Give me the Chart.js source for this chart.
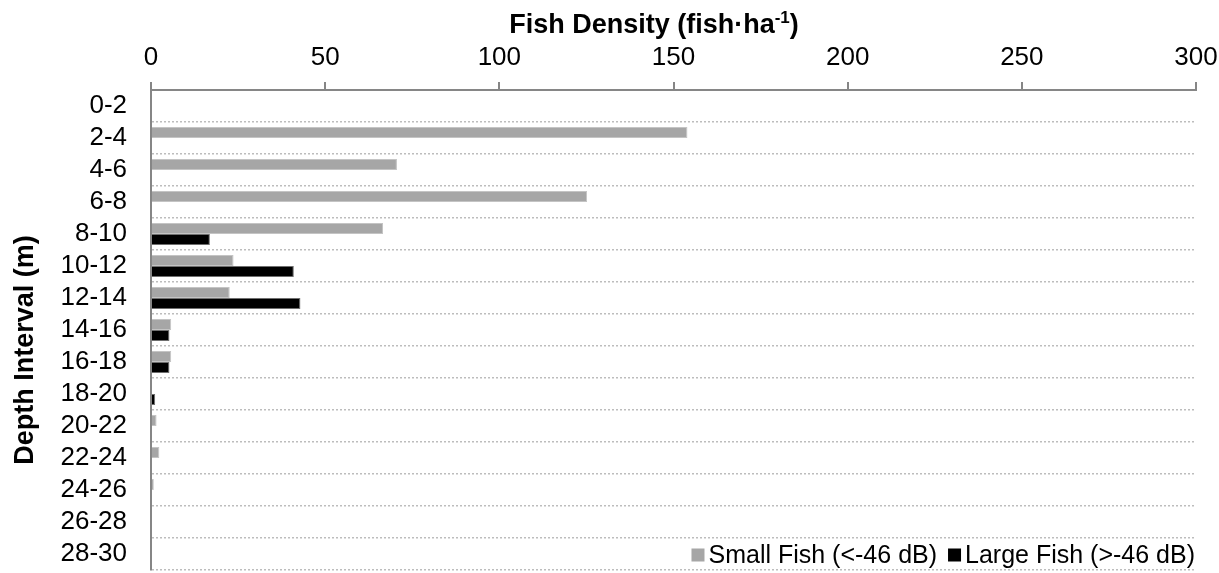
<!DOCTYPE html>
<html>
<head>
<meta charset="utf-8">
<script src="https://cdn.jsdelivr.net/npm/chart.js@4/dist/chart.umd.min.js"></script>
<style>
  html, body { margin: 0; padding: 0; background: #ffffff; overflow: hidden; }
  #wrap { width: 1219px; height: 573px; }
</style>
</head>
<body>
<div id="wrap"><canvas id="chart" width="1219" height="573"></canvas></div>
<script>
// Depth bins (m) and acoustic fish density per bin (fish·ha-1)
const depthIntervals = ['0-2', '2-4', '4-6', '6-8', '8-10', '10-12', '12-14', '14-16',
                        '16-18', '18-20', '20-22', '22-24', '24-26', '26-28', '28-30'];
const smallFish = [0, 154, 70.6, 125.2, 66.6, 23.7, 22.6, 5.8, 5.8, 0, 1.6, 2.4, 0.8, 0, 0];
const largeFish = [0, 0, 0, 0, 16.9, 41.0, 42.9, 5.3, 5.3, 1.2, 0, 0, 0, 0, 0];
const densityTicks = [0, 50, 100, 150, 200, 250, 300];

const seriesLabels = ['Small Fish (<-46 dB)', 'Large Fish (>-46 dB)'];
const FONT = "'Liberation Sans', Arial, sans-serif";
const AXIS_GREY = '#868686';

// Keep the plot frame fixed: no extra room reserved for overhanging labels
function noOverhang(scale) {
  scale.paddingLeft = 0;
  scale.paddingRight = 0;
  scale.paddingTop = 0;
  scale.paddingBottom = 0;
}

// Axis titles (top title carries a superscript exponent)
const axisTitles = {
  id: 'axisTitles',
  afterDraw(chart) {
    const ctx = chart.ctx;
    ctx.save();
    ctx.fillStyle = '#000';
    ctx.textBaseline = 'alphabetic';
    const main = 'Fish Density (fish·ha';
    const sup = '-1';
    const tail = ')';
    const bigFont = 'bold 27px ' + FONT;
    const supFont = 'bold 17px ' + FONT;
    ctx.font = bigFont;
    const wMain = ctx.measureText(main).width;
    const wTail = ctx.measureText(tail).width;
    ctx.font = supFont;
    const wSup = ctx.measureText(sup).width;
    const total = wMain + wSup + wTail;
    let x = 654 - total / 2;
    const base = 33;
    ctx.textAlign = 'left';
    ctx.font = bigFont;
    ctx.fillText(main, x, base);
    x += wMain;
    ctx.font = supFont;
    ctx.fillText(sup, x, base - 10);
    x += wSup;
    ctx.font = bigFont;
    ctx.fillText(tail, x, base);
    // left axis title
    ctx.translate(33, 350);
    ctx.rotate(-Math.PI / 2);
    ctx.textAlign = 'center';
    ctx.font = bigFont;
    ctx.fillText('Depth Interval (m)', 0, 0);
    ctx.restore();
  }
};

// Legend drawn inside the lower right corner of the plot area
const innerLegend = {
  id: 'innerLegend',
  afterDraw(chart) {
    const ctx = chart.ctx;
    const area = chart.chartArea;
    const box = 13, boxGap = 4, itemGap = 11;
    ctx.save();
    ctx.font = '25px ' + FONT;
    ctx.textBaseline = 'middle';
    ctx.textAlign = 'left';
    const items = chart.data.datasets.map(ds => ({
      label: ds.label, color: ds.backgroundColor, w: ctx.measureText(ds.label).width
    }));
    const total = items.reduce((s, it) => s + box + boxGap + it.w, 0) + itemGap * (items.length - 1);
    let x = area.right - 1 - total;
    const cy = area.bottom - 15;
    items.forEach(it => {
      ctx.fillStyle = it.color;
      ctx.fillRect(x, cy - box / 2, box, box);
      x += box + boxGap;
      ctx.fillStyle = '#000';
      ctx.fillText(it.label, x, cy + 1);
      x += it.w + itemGap;
    });
    ctx.restore();
  }
};

new Chart(document.getElementById('chart'), {
  type: 'bar',
  data: {
    labels: depthIntervals,
    datasets: [
      {
        label: seriesLabels[0],
        data: smallFish,
        backgroundColor: '#a6a6a6',
        borderColor: '#c4c4c4',
        borderWidth: 1,
        categoryPercentage: 0.69,
        barPercentage: 1.0
      },
      {
        label: seriesLabels[1],
        data: largeFish,
        backgroundColor: '#000000',
        borderColor: '#6f6f6f',
        borderWidth: 1,
        categoryPercentage: 0.69,
        barPercentage: 1.0
      }
    ]
  },
  options: {
    indexAxis: 'y',
    responsive: false,
    animation: false,
    layout: { padding: { left: 0, top: 0, right: 23, bottom: 3 } },
    plugins: {
      legend: { display: false },
      tooltip: { enabled: false }
    },
    scales: {
      x: {
        position: 'top',
        min: densityTicks[0],
        max: densityTicks[densityTicks.length - 1],
        afterBuildTicks(scale) {
          scale.ticks = densityTicks.map(v => ({ value: v }));
        },
        afterFit(scale) { scale.height = 90; noOverhang(scale); },
        grid: {
          drawOnChartArea: false,
          drawTicks: true,
          tickLength: 8,
          color: AXIS_GREY,
          lineWidth: 2
        },
        border: { display: true, color: AXIS_GREY, width: 2 },
        ticks: {
          color: '#000',
          padding: 9,
          maxRotation: 0,
          autoSkip: false,
          font: { family: FONT, size: 26 }
        },
        title: { display: false }
      },
      y: {
        position: 'left',
        afterFit(scale) { scale.width = 151; noOverhang(scale); },
        grid: {
          offset: true,
          drawTicks: false,
          lineWidth: 1.5,
          color: (c) => (c.index === 0 ? 'rgba(0,0,0,0)' : '#bdbdbd')
        },
        border: { display: true, color: AXIS_GREY, width: 2, dash: [2, 2] },
        ticks: {
          color: '#000',
          padding: 24,
          autoSkip: false,
          font: { family: FONT, size: 26 }
        },
        title: { display: false }
      }
    }
  },
  plugins: [axisTitles, innerLegend]
});
</script>
</body>
</html>
